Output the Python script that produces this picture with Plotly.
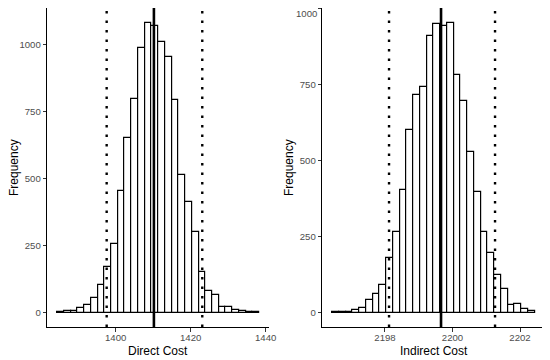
import plotly.graph_objects as go

# ---- data ----
direct_counts = [2, 4, 5, 16, 27, 55, 103, 169, 254, 455, 653, 796, 986, 1083, 1071,
                 1009, 955, 792, 514, 414, 301, 152, 82, 66, 22, 19, 8, 4, 2, 1]
direct_first_center = 1385.33
direct_bin_width = 1.796
direct_mean = 1410.2
direct_ci = [1397.6, 1423.1]

indirect_counts = [1, 2, 3, 8, 15, 40, 60, 89, 178, 266, 405, 602, 716, 742, 909,
                   951, 944, 955, 781, 695, 527, 396, 265, 195, 125, 79, 24, 28, 13, 4]
indirect_first_center = 2196.54
indirect_bin_width = 0.2
indirect_mean = 2199.66
indirect_ci = [2198.12, 2201.26]

direct_ticks = [1400, 1420, 1440]
indirect_ticks = [2198, 2200, 2202]
y_ticks = [0, 250, 500, 750, 1000]

direct_x = [direct_first_center + i * direct_bin_width for i in range(len(direct_counts))]
indirect_x = [indirect_first_center + i * indirect_bin_width for i in range(len(indirect_counts))]

W, H = 550, 360
OFF = 8  # page body margin offset

fig = go.Figure()
fig.add_trace(go.Bar(x=direct_x, y=direct_counts, width=direct_bin_width,
                     marker=dict(color="white", line=dict(color="black", width=1.2)),
                     xaxis="x", yaxis="y", showlegend=False))
fig.add_trace(go.Bar(x=indirect_x, y=indirect_counts, width=indirect_bin_width,
                     marker=dict(color="white", line=dict(color="black", width=1.2)),
                     xaxis="x2", yaxis="y2", showlegend=False))

def px_x(p):
    return (p - OFF) / W

def px_y(p):
    return 1 - (p - OFF) / H

y_dom = [px_y(327), min(1.0, px_y(8))]

d_lo = direct_x[0] - direct_bin_width / 2
d_hi = direct_x[-1] + direct_bin_width / 2
d_pad = 0.05 * (d_hi - d_lo)
i_lo = indirect_x[0] - indirect_bin_width / 2
i_hi = indirect_x[-1] + indirect_bin_width / 2
i_pad = 0.05 * (i_hi - i_lo)
dmax = max(direct_counts)
imax = max(indirect_counts)

FONT = "Liberation Sans, Arial, sans-serif"
tickfont = dict(family=FONT, size=9.6, color="#4D4D4D")
axis_common = dict(showline=True, linecolor="black", linewidth=1, ticks="outside",
                   ticklen=3.5, tickwidth=1, tickcolor="#333333", showgrid=False,
                   zeroline=False, tickfont=tickfont, automargin=False,
                   ticklabeloverflow="allow")

# the top right label would be clipped by the page edge: draw it as a nudged annotation
y2_text = ["" if v >= imax * 1.0 else str(v) for v in y_ticks]

fig.update_layout(
    width=W, height=H, margin=dict(l=0, r=0, t=0, b=0),
    paper_bgcolor="white", plot_bgcolor="white", bargap=0,
    xaxis=dict(domain=[px_x(47.2), px_x(269.4)], range=[d_lo - d_pad, d_hi + d_pad],
               tickvals=direct_ticks, anchor="y", ticklabelstandoff=-2, **axis_common),
    yaxis=dict(domain=y_dom, range=[-0.05 * dmax, 1.05 * dmax], tickvals=y_ticks,
               anchor="x", **axis_common),
    xaxis2=dict(domain=[px_x(322.2), px_x(545)], range=[i_lo - i_pad, i_hi + i_pad],
                tickvals=indirect_ticks, anchor="y2", ticklabelstandoff=-2, **axis_common),
    yaxis2=dict(domain=y_dom, range=[-0.05 * imax, 1.05 * imax], tickvals=y_ticks,
                ticktext=y2_text, anchor="x2", **axis_common),
)

shapes = []
for xref, yref, mean, ci in [("x", "y domain", direct_mean, direct_ci),
                             ("x2", "y2 domain", indirect_mean, indirect_ci)]:
    shapes.append(dict(type="line", xref=xref, yref=yref, x0=mean, x1=mean, y0=0, y1=1,
                       line=dict(color="black", width=2.6)))
    for c in ci:
        shapes.append(dict(type="line", xref=xref, yref=yref, x0=c, x1=c, y0=0, y1=1,
                           line=dict(color="black", width=2.4, dash="2.4px,7.1px")))
fig.update_layout(shapes=shapes)

titlefont = dict(family=FONT, size=12, color="black")
ann = []
for xc, txt in [((47.2 + 269.4) / 2, "Direct Cost"), ((322.2 + 545) / 2, "Indirect Cost")]:
    ann.append(dict(x=px_x(xc), y=px_y(351), xref="paper", yref="paper", text=txt,
                    showarrow=False, font=titlefont, xanchor="center", yanchor="middle"))
for xc in [13.5, 288.5]:
    ann.append(dict(x=px_x(xc), y=px_y(167.5), xref="paper", yref="paper", text="Frequency",
                    showarrow=False, font=titlefont, textangle=-90,
                    xanchor="center", yanchor="middle"))
for v, t in zip(y_ticks, y2_text):
    if t == "":
        ann.append(dict(x=px_x(317.5), y=1, xref="paper", yref="paper", text=str(v),
                        showarrow=False, font=tickfont, xanchor="right", yanchor="top",
                        borderpad=0, yshift=1))
fig.update_layout(annotations=ann)

fig.write_html("out.html")
